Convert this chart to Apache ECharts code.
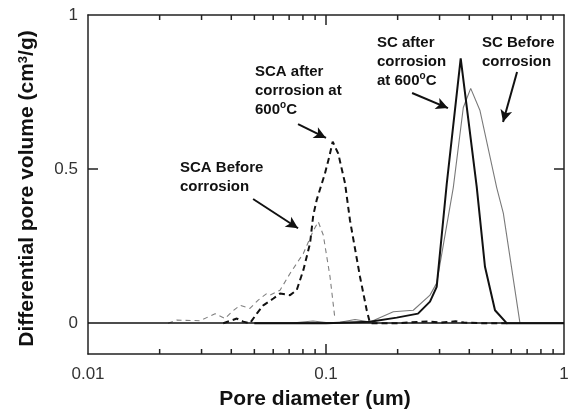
<!DOCTYPE html>
<html>
<head>
<meta charset="utf-8">
<script src="https://cdn.jsdelivr.net/npm/echarts@6/dist/echarts.min.js"></script>
<style>
  html, body { margin: 0; padding: 0; background: #fff; }
  #chart { width: 578px; height: 420px; }
</style>
</head>
<body>
<div id="chart"></div>
<script>
// pore diameter (um) / differential pore volume (cm3/g)
const scaBeforeX = [0.0217, 0.0236, 0.0296, 0.0342, 0.0376, 0.0402, 0.0435, 0.0479, 0.0519, 0.0563, 0.0582, 0.0641, 0.0706, 0.0803, 0.0884, 0.0928, 0.0974, 0.104, 0.109];
const scaBeforeY = [0, 0.01, 0.008, 0.031, 0.015, 0.037, 0.058, 0.048, 0.075, 0.096, 0.091, 0.107, 0.161, 0.226, 0.30, 0.329, 0.286, 0.15, 0.015];

const scaAfterX = [0.037, 0.0422, 0.0449, 0.0479, 0.0512, 0.0545, 0.0601, 0.0641, 0.0706, 0.0753, 0.0803, 0.0857, 0.0884, 0.0914, 0.099, 0.1032, 0.1067, 0.1126, 0.1202, 0.1261, 0.139, 0.1483, 0.1531, 0.2, 0.27, 0.3, 0.35, 0.38, 0.45, 0.6];
const scaAfterY = [0, 0.015, 0.005, 0, 0.031, 0.058, 0.08, 0.096, 0.091, 0.107, 0.172, 0.259, 0.35, 0.40, 0.486, 0.54, 0.589, 0.55, 0.454, 0.334, 0.15, 0.042, 0, 0, 0.006, 0.002, 0.006, 0.002, 0, 0];

const scAfterX = [0.05, 0.1, 0.1531, 0.1982, 0.2435, 0.2735, 0.2918, 0.3214, 0.3681, 0.4297, 0.4656, 0.5129, 0.5743, 1];
const scAfterY = [0, 0, 0.005, 0.018, 0.031, 0.07, 0.118, 0.45, 0.859, 0.443, 0.183, 0.042, 0, 0];

const scBeforeX = [0.05, 0.07, 0.0882, 0.1, 0.1145, 0.1324, 0.1531, 0.1918, 0.2327, 0.2735, 0.2918, 0.3426, 0.3775, 0.4055, 0.4436, 0.5214, 0.5559, 0.6531, 1];
const scBeforeY = [0, 0, 0.007, 0.002, 0.003, 0.012, 0.004, 0.037, 0.042, 0.091, 0.13, 0.44, 0.70, 0.762, 0.69, 0.44, 0.357, 0, 0];

const xLabels = [0.01, 0.1, 1];
const xMinorTicks = [0.02, 0.03, 0.04, 0.05, 0.06, 0.07, 0.08, 0.09, 0.2, 0.3, 0.4, 0.5, 0.6, 0.7, 0.8, 0.9];
const xMajorTicks = [0.1];
const yLabels = [0, 0.5, 1];
const yTicks = [0.5];

// arrows [from, to] in data coords
const arrows = [
  [[0.0494, 0.403], [0.0763, 0.308]],
  [[0.0763, 0.646], [0.1, 0.601]],
  [[0.230, 0.747], [0.3255, 0.698]],
  [[0.635, 0.815], [0.5545, 0.653]]
];

const pair = (xs, ys) => xs.map((x, i) => [x, ys[i]]);
const FONT = 'Liberation Sans, Arial, Helvetica, sans-serif';

const chart = echarts.init(document.getElementById('chart'));

const xBase = {
  type: 'log', logBase: 10, min: 0.01, max: 1,
  axisLine: { show: true, onZero: false, lineStyle: { color: '#222', width: 1.5 } },
  axisTick: { show: false },
  splitLine: { show: false },
  minorTick: { show: false }
};
const yBase = {
  type: 'value', min: -0.1, max: 1,
  axisLine: { show: true, onZero: false, lineStyle: { color: '#222', width: 1.5 } },
  axisTick: { show: true, inside: true, length: 10, customValues: yTicks, lineStyle: { color: '#222', width: 1.5 } },
  splitLine: { show: false }
};

chart.setOption({
  animation: false,
  grid: { left: 88, right: 14, top: 15, bottom: 66 },
  xAxis: [
    Object.assign({}, xBase, {
      position: 'bottom',
      name: 'Pore diameter (um)',
      nameLocation: 'middle',
      nameGap: 35,
      nameTextStyle: { fontFamily: FONT, fontSize: 21, fontWeight: 'bold', color: '#111', padding: [0, 22, 0, 0] },
      axisLabel: {
        margin: 12, fontFamily: FONT, fontSize: 17, color: '#333',
        formatter: v => (xLabels.some(l => Math.abs(l - v) < 1e-9) ? String(v) : '')
      }
    }),
    Object.assign({}, xBase, { position: 'top', axisLabel: { show: false } })
  ],
  yAxis: [
    Object.assign({}, yBase, {
      position: 'left',
      name: 'Differential pore volume (cm{s|3}/g)',
      nameLocation: 'middle',
      nameGap: 50,
      nameTextStyle: {
        fontFamily: FONT, fontSize: 21, fontWeight: 'bold', color: '#111', padding: [0, 8, 0, 0],
        rich: { s: { fontFamily: FONT, fontSize: 13, fontWeight: 'bold', color: '#111', verticalAlign: 'top', lineHeight: 12 } }
      },
      axisLabel: {
        customValues: yLabels, margin: 10, fontFamily: FONT, fontSize: 17, color: '#333',
        formatter: v => String(v)
      }
    }),
    Object.assign({}, yBase, { position: 'right', axisLabel: { show: false } })
  ],
  series: [
    {
      type: 'line', name: 'SC Before corrosion', data: pair(scBeforeX, scBeforeY),
      showSymbol: false, symbol: 'none',
      lineStyle: { color: '#7a7a7a', width: 1.1 },
      markLine: {
        silent: true, symbol: 'none', label: { show: false },
        lineStyle: { color: '#111', width: 1.5, type: 'solid' },
        data: [{ yAxis: 0 }]
      },
      z: 3
    },
    {
      type: 'line', name: 'SCA Before corrosion', data: pair(scaBeforeX, scaBeforeY),
      showSymbol: false, symbol: 'none',
      lineStyle: { color: '#808080', width: 1.1, type: [5, 4] },
      z: 3
    },
    {
      type: 'line', name: 'SCA after corrosion at 600oC', data: pair(scaAfterX, scaAfterY),
      showSymbol: false, symbol: 'none',
      lineStyle: { color: '#111', width: 2, type: [6, 4] },
      z: 4
    },
    {
      type: 'line', name: 'SC after corrosion at 600oC', data: pair(scAfterX, scAfterY),
      showSymbol: false, symbol: 'none',
      lineStyle: { color: '#111', width: 2 },
      markLine: {
        silent: true, symbol: ['none', 'arrow'], symbolSize: [9, 12], label: { show: false },
        lineStyle: { color: '#111', width: 2, type: 'solid' },
        data: arrows.map(a => [{ coord: a[0] }, { coord: a[1] }])
      },
      z: 5
    }
  ]
});

// log-axis minor ticks on top and bottom frame, placed through the axis scale
const yBottom = chart.convertToPixel({ yAxisIndex: 0 }, -0.1);
const yTop = chart.convertToPixel({ yAxisIndex: 0 }, 1);
const tickLines = [];
xMinorTicks.concat(xMajorTicks).forEach(v => {
  const px = chart.convertToPixel({ xAxisIndex: 0 }, v);
  const len = xMajorTicks.indexOf(v) >= 0 ? 10 : 5;
  [[yBottom, -len], [yTop, len]].forEach(([y0, d]) => {
    tickLines.push({
      type: 'line', silent: true,
      shape: { x1: px, y1: y0, x2: px, y2: y0 + d },
      style: { stroke: '#222', lineWidth: 1.5 }
    });
  });
});

const txt = { fontFamily: FONT, fontSize: 15, fontWeight: 'bold', fill: '#111', lineHeight: 19 };
const richTxt = {
  b: { fontFamily: FONT, fontSize: 15, fontWeight: 'bold', fill: '#111', lineHeight: 19 },
  s: { fontFamily: FONT, fontSize: 10, fontWeight: 'bold', fill: '#111', verticalAlign: 'top', lineHeight: 11 }
};
const note = (x, y, text) => ({
  type: 'text', x: x, y: y, silent: true,
  style: Object.assign({ text: text, rich: richTxt }, txt)
});

chart.setOption({
  graphic: tickLines.concat([
    note(180, 158, '{b|SCA Before}\n{b|corrosion}'),
    note(255, 62, '{b|SCA after}\n{b|corrosion at}\n{b|600}{s|o}{b|C}'),
    note(377, 33, '{b|SC after}\n{b|corrosion}\n{b|at 600}{s|o}{b|C}'),
    note(482, 33, '{b|SC Before}\n{b|corrosion}')
  ])
});
</script>
</body>
</html>
